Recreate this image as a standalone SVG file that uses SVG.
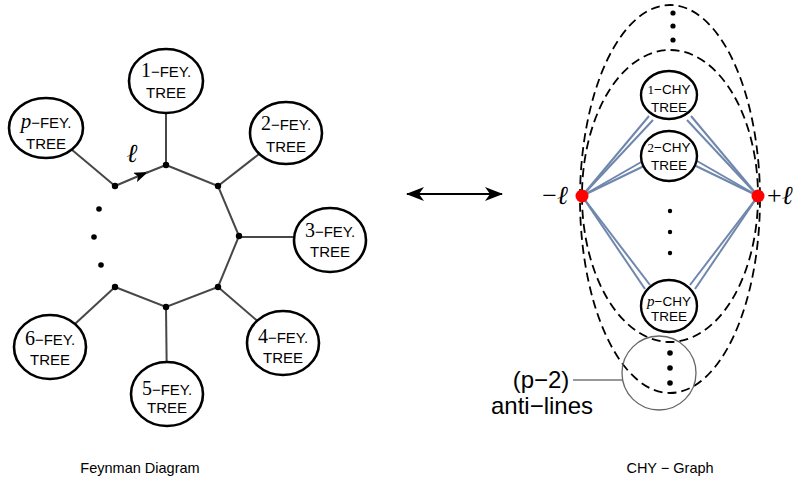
<svg xmlns="http://www.w3.org/2000/svg" width="793" height="487" viewBox="0 0 793 487">
<style>
.edge{stroke:#474747;stroke-width:2;fill:none}
.node{fill:#fff;stroke:#000;stroke-width:2.6}
.cnode{fill:#fff;stroke:#000;stroke-width:2.4}
.dot{fill:#000}
.blue{stroke:#6f87ad;stroke-width:2;fill:none}
.dash{stroke:#000;stroke-width:1.8;fill:none;stroke-dasharray:9 5}
.sans{font-family:"Liberation Sans",Arial,sans-serif;fill:#000}
.ser{font-family:"Liberation Serif","DejaVu Serif",serif}
.t{font-size:15px;text-anchor:middle}
.ct{font-size:13.5px;text-anchor:middle}
</style>
<defs>
<marker id="arr" viewBox="0 0 14 10" refX="14" refY="5" markerWidth="14" markerHeight="10" orient="auto" markerUnits="userSpaceOnUse"><path d="M0,0 L14,5 L0,10 L3,5 z" fill="#000"/></marker>
<marker id="dbl" viewBox="0 0 18 14" refX="17" refY="7" markerWidth="18" markerHeight="14" orient="auto-start-reverse" markerUnits="userSpaceOnUse"><path d="M0,0 L18,7 L0,14 L5,7 z" fill="#000"/></marker>
</defs>

<g id="connectors">
  <line class="edge" x1="115" y1="186" x2="148" y2="172" marker-end="url(#arr)"/>
  <line class="edge" x1="146" y1="173" x2="166" y2="165"/>
  <polyline class="edge" points="166,165 218,186 239,236 218,287 166,307 115,287"/>
  <line class="edge" x1="115" y1="186" x2="46" y2="128"/>
  <line class="edge" x1="166" y1="165" x2="166" y2="81"/>
  <line class="edge" x1="218" y1="186" x2="286" y2="133"/>
  <line class="edge" x1="239" y1="237" x2="330" y2="237"/>
  <line class="edge" x1="218" y1="287" x2="283" y2="343"/>
  <line class="edge" x1="166" y1="307" x2="167" y2="394"/>
  <line class="edge" x1="115" y1="287" x2="50" y2="347"/>
  <line x1="407" y1="194" x2="502" y2="194" stroke="#000" stroke-width="2" marker-start="url(#dbl)" marker-end="url(#dbl)"/>
  <ellipse class="dash" cx="670" cy="199" rx="90" ry="194"/>
  <ellipse class="dash" cx="670" cy="196" rx="88" ry="146"/>
  <line class="blue" x1="582" y1="196" x2="649" y2="116"/>
  <line class="blue" x1="582" y1="196" x2="653" y2="120"/>
  <line class="blue" x1="582" y1="196" x2="643" y2="161"/>
  <line class="blue" x1="582" y1="196" x2="644" y2="166"/>
  <line class="blue" x1="582" y1="196" x2="645" y2="289"/>
  <line class="blue" x1="582" y1="196" x2="650" y2="285"/>
  <line class="blue" x1="758" y1="196" x2="691" y2="116"/>
  <line class="blue" x1="758" y1="196" x2="687" y2="120"/>
  <line class="blue" x1="758" y1="196" x2="697" y2="161"/>
  <line class="blue" x1="758" y1="196" x2="696" y2="166"/>
  <line class="blue" x1="758" y1="196" x2="695" y2="289"/>
  <line class="blue" x1="758" y1="196" x2="690" y2="285"/>
  <line x1="573" y1="380" x2="622" y2="380" stroke="#777" stroke-width="1.3"/>
  <circle cx="659" cy="373" r="37" fill="none" stroke="#666" stroke-width="1.3"/>
</g>

<g id="vertices">
  <circle class="dot" cx="166" cy="165" r="3.2"/>
  <circle class="dot" cx="115" cy="186" r="3.2"/>
  <circle class="dot" cx="218" cy="186" r="3.2"/>
  <circle class="dot" cx="239" cy="236" r="3.2"/>
  <circle class="dot" cx="218" cy="287" r="3.2"/>
  <circle class="dot" cx="166" cy="307" r="3.2"/>
  <circle class="dot" cx="115" cy="287" r="3.2"/>
  <circle class="dot" cx="99" cy="209" r="2.8"/>
  <circle class="dot" cx="94" cy="237" r="2.8"/>
  <circle class="dot" cx="101" cy="265" r="2.8"/>
</g>

<text x="132" y="162" font-family="'Liberation Serif','DejaVu Serif',serif" font-style="italic" font-size="26" text-anchor="middle">ℓ</text>

<g id="fey-p"><ellipse class="node" cx="46" cy="128" rx="37" ry="30"/>
<text class="sans t" x="46" y="128"><tspan class="ser" font-style="italic" font-size="21">p</tspan>−FEY.</text>
<text class="sans t" x="46" y="149">TREE</text></g>
<g id="fey-1"><ellipse class="node" cx="166" cy="81" rx="37" ry="32"/>
<text class="sans t" x="166" y="77"><tspan class="ser" font-size="20">1</tspan>−FEY.</text>
<text class="sans t" x="166" y="98">TREE</text></g>
<g id="fey-2"><ellipse class="node" cx="286" cy="133" rx="36" ry="31"/>
<text class="sans t" x="286" y="130"><tspan class="ser" font-size="20">2</tspan>−FEY.</text>
<text class="sans t" x="286" y="152">TREE</text></g>
<g id="fey-3"><ellipse class="node" cx="330" cy="240" rx="36" ry="32"/>
<text class="sans t" x="330" y="237"><tspan class="ser" font-size="20">3</tspan>−FEY.</text>
<text class="sans t" x="330" y="257">TREE</text></g>
<g id="fey-4"><ellipse class="node" cx="283" cy="343" rx="36" ry="32"/>
<text class="sans t" x="283" y="343"><tspan class="ser" font-size="20">4</tspan>−FEY.</text>
<text class="sans t" x="283" y="363">TREE</text></g>
<g id="fey-5"><ellipse class="node" cx="167" cy="394" rx="36" ry="32"/>
<text class="sans t" x="167" y="395"><tspan class="ser" font-size="20">5</tspan>−FEY.</text>
<text class="sans t" x="167" y="413">TREE</text></g>
<g id="fey-6"><ellipse class="node" cx="50" cy="347" rx="36" ry="32"/>
<text class="sans t" x="50" y="345"><tspan class="ser" font-size="20">6</tspan>−FEY.</text>
<text class="sans t" x="50" y="365">TREE</text></g>

<g id="chy-1"><ellipse class="cnode" cx="669" cy="95" rx="28" ry="24"/>
<text class="sans ct" x="669" y="94"><tspan class="ser" font-size="13">1</tspan>−CHY</text>
<text class="sans ct" x="669" y="112">TREE</text></g>
<g id="chy-2"><ellipse class="cnode" cx="669" cy="156" rx="28" ry="25"/>
<text class="sans ct" x="669" y="152"><tspan class="ser" font-size="13">2</tspan>−CHY</text>
<text class="sans ct" x="669" y="170">TREE</text></g>
<g id="chy-p"><ellipse class="cnode" cx="669" cy="306" rx="28" ry="26"/>
<text class="sans ct" x="669" y="306"><tspan class="ser" font-style="italic" font-size="15">p</tspan>−CHY</text>
<text class="sans ct" x="669" y="321">TREE</text></g>

<g id="chy-dots">
  <circle class="dot" cx="673" cy="13" r="2.6"/>
  <circle class="dot" cx="673" cy="26" r="2.6"/>
  <circle class="dot" cx="673" cy="40" r="2.6"/>
  <circle class="dot" cx="670" cy="211" r="2.2"/>
  <circle class="dot" cx="670" cy="232" r="2.2"/>
  <circle class="dot" cx="670" cy="253" r="2.2"/>
  <circle class="dot" cx="670" cy="353" r="2.8"/>
  <circle class="dot" cx="670" cy="368" r="2.8"/>
  <circle class="dot" cx="670" cy="383" r="2.8"/>
</g>

<g id="loop-minus"><circle cx="582" cy="196" r="6.5" fill="#f00"/>
<text x="555" y="204" font-family="'Liberation Serif','DejaVu Serif',serif" font-size="26" text-anchor="middle">−<tspan font-style="italic">ℓ</tspan></text></g>
<g id="loop-plus"><circle cx="758" cy="196" r="6.5" fill="#f00"/>
<text x="767" y="204" font-family="'Liberation Serif','DejaVu Serif',serif" font-size="26">+<tspan font-style="italic">ℓ</tspan></text></g>

<g id="anti-label">
<text class="sans" x="541" y="388" font-size="24" text-anchor="middle">(p−2)</text>
<text class="sans" x="542" y="414" font-size="24" text-anchor="middle">anti−lines</text>
</g>

<text class="sans" x="140" y="473" font-size="14.5" text-anchor="middle">Feynman Diagram</text>
<text class="sans" x="670" y="473" font-size="14.5" text-anchor="middle">CHY − Graph</text>
</svg>
